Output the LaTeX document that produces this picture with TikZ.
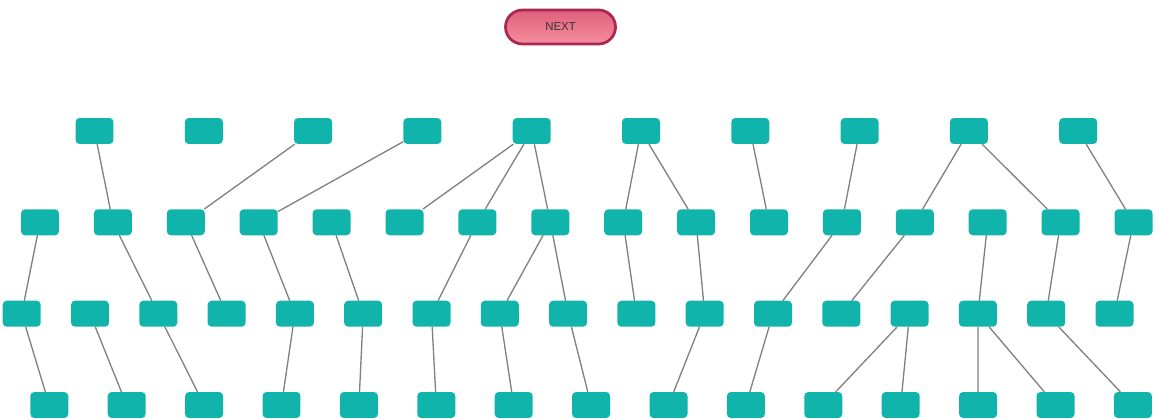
\documentclass[tikz,border=0pt]{standalone}
\usepackage{fontspec}
\newfontfamily\btnfont{Liberation Sans}
\usepackage{tikz}
\usepackage{xcolor}
\definecolor{boxteal}{RGB}{16,180,170}
\definecolor{linkgray}{RGB}{128,128,128}
\definecolor{btnedge}{RGB}{168,40,82}
\definecolor{btntop}{RGB}{222,96,122}
\definecolor{btnmid}{RGB}{238,122,142}
\definecolor{btnbot}{RGB}{246,142,158}
\begin{document}
\begin{tikzpicture}[x=0.02cm,y=-0.02cm,line cap=round,
  box/.style={rectangle,rounded corners=0.08cm,fill=boxteal,minimum width=0.76cm,minimum height=0.52cm,inner sep=0pt},
  link/.style={linkgray,line width=0.75pt},
  btn/.style={rectangle,rounded corners=0.34cm,draw=btnedge,line width=0.055cm,top color=btntop,middle color=btnmid,bottom color=btnbot,minimum width=2.2cm,minimum height=0.68cm,inner sep=0pt,font=\btnfont\fontsize{6.5}{7}\selectfont,text=black!80}]
\useasboundingbox (0,0) rectangle (1160,419);
\node[btn] (next) at (560.5,27) {NEXT};
\node[box] (a1) at (94.5,131) {};
\node[box] (a2) at (203.8,131) {};
\node[box] (a3) at (313.1,131) {};
\node[box] (a4) at (422.4,131) {};
\node[box] (a5) at (531.7,131) {};
\node[box] (a6) at (641,131) {};
\node[box] (a7) at (750.3,131) {};
\node[box] (a8) at (859.6,131) {};
\node[box] (a9) at (968.9,131) {};
\node[box] (a10) at (1078.2,131) {};
\node[box] (b1) at (40,222.3) {};
\node[box] (b2) at (112.9,222.3) {};
\node[box] (b3) at (185.8,222.3) {};
\node[box] (b4) at (258.7,222.3) {};
\node[box] (b5) at (331.6,222.3) {};
\node[box] (b6) at (404.5,222.3) {};
\node[box] (b7) at (477.4,222.3) {};
\node[box] (b8) at (550.3,222.3) {};
\node[box] (b9) at (623.2,222.3) {};
\node[box] (b10) at (696.1,222.3) {};
\node[box] (b11) at (769,222.3) {};
\node[box] (b12) at (841.9,222.3) {};
\node[box] (b13) at (914.8,222.3) {};
\node[box] (b14) at (987.7,222.3) {};
\node[box] (b15) at (1060.6,222.3) {};
\node[box] (b16) at (1133.5,222.3) {};
\node[box] (c1) at (21.7,313.7) {};
\node[box] (c2) at (90,313.7) {};
\node[box] (c3) at (158.3,313.7) {};
\node[box] (c4) at (226.6,313.7) {};
\node[box] (c5) at (294.9,313.7) {};
\node[box] (c6) at (363.2,313.7) {};
\node[box] (c7) at (431.5,313.7) {};
\node[box] (c8) at (499.8,313.7) {};
\node[box] (c9) at (568.1,313.7) {};
\node[box] (c10) at (636.4,313.7) {};
\node[box] (c11) at (704.7,313.7) {};
\node[box] (c12) at (773,313.7) {};
\node[box] (c13) at (841.3,313.7) {};
\node[box] (c14) at (909.6,313.7) {};
\node[box] (c15) at (977.9,313.7) {};
\node[box] (c16) at (1046.2,313.7) {};
\node[box] (c17) at (1114.5,313.7) {};
\node[box] (d1) at (49.3,405) {};
\node[box] (d2) at (126.7,405) {};
\node[box] (d3) at (204.1,405) {};
\node[box] (d4) at (281.5,405) {};
\node[box] (d5) at (358.9,405) {};
\node[box] (d6) at (436.3,405) {};
\node[box] (d7) at (513.7,405) {};
\node[box] (d8) at (591.1,405) {};
\node[box] (d9) at (668.5,405) {};
\node[box] (d10) at (745.9,405) {};
\node[box] (d11) at (823.3,405) {};
\node[box] (d12) at (900.7,405) {};
\node[box] (d13) at (978.1,405) {};
\node[box] (d14) at (1055.5,405) {};
\node[box] (d15) at (1132.9,405) {};
\draw[link] (a1) -- (b2);
\draw[link] (a3) -- (b3);
\draw[link] (a4) -- (b4);
\draw[link] (a5) -- (b6);
\draw[link] (a5) -- (b7);
\draw[link] (a5) -- (b8);
\draw[link] (a6) -- (b9);
\draw[link] (a6) -- (b10);
\draw[link] (a7) -- (b11);
\draw[link] (a8) -- (b12);
\draw[link] (a9) -- (b13);
\draw[link] (a9) -- (b15);
\draw[link] (a10) -- (b16);
\draw[link] (b1) -- (c1);
\draw[link] (b2) -- (c3);
\draw[link] (b3) -- (c4);
\draw[link] (b4) -- (c5);
\draw[link] (b5) -- (c6);
\draw[link] (b7) -- (c7);
\draw[link] (b8) -- (c8);
\draw[link] (b8) -- (c9);
\draw[link] (b9) -- (c10);
\draw[link] (b10) -- (c11);
\draw[link] (b12) -- (c12);
\draw[link] (b13) -- (c13);
\draw[link] (b14) -- (c15);
\draw[link] (b15) -- (c16);
\draw[link] (b16) -- (c17);
\draw[link] (c1) -- (d1);
\draw[link] (c2) -- (d2);
\draw[link] (c3) -- (d3);
\draw[link] (c5) -- (d4);
\draw[link] (c6) -- (d5);
\draw[link] (c7) -- (d6);
\draw[link] (c8) -- (d7);
\draw[link] (c9) -- (d8);
\draw[link] (c11) -- (d9);
\draw[link] (c12) -- (d10);
\draw[link] (c14) -- (d11);
\draw[link] (c14) -- (d12);
\draw[link] (c15) -- (d13);
\draw[link] (c15) -- (d14);
\draw[link] (c16) -- (d15);
\end{tikzpicture}
\end{document}
